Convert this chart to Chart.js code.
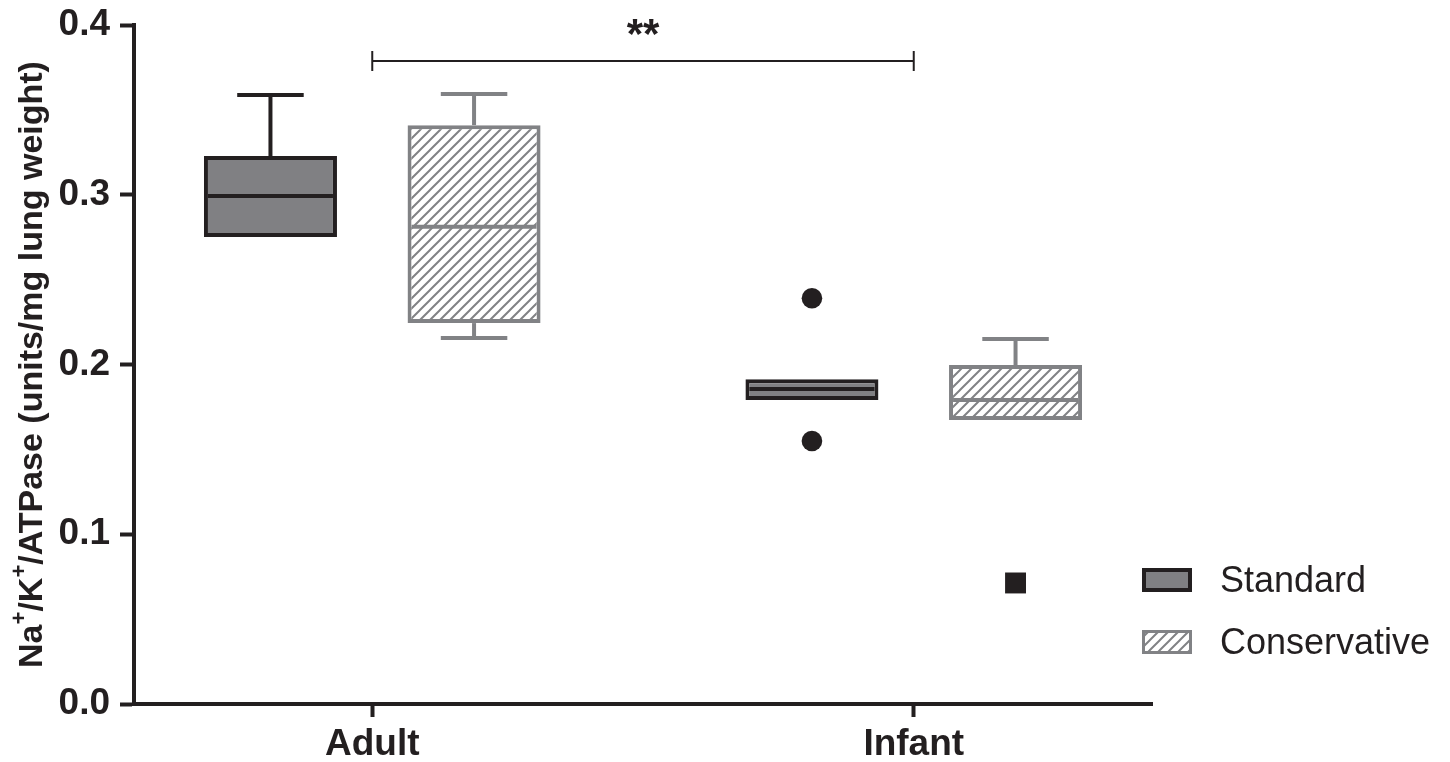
<!DOCTYPE html>
<html><head><meta charset="utf-8">
<script src="https://cdn.jsdelivr.net/npm/chart.js@4.4.1/dist/chart.umd.min.js"></script>
<style>html,body{margin:0;padding:0;background:#fff;overflow:hidden}#wrap{width:1450px;height:762px;position:relative}</style>
</head><body><div id="wrap"><canvas id="c" width="1450" height="762"></canvas></div>
<script>
// ---- data ----
const groups = ['Adult', 'Infant'];
const seriesNames = ['Standard', 'Conservative'];
const standardMin = [0.2751, 0.1791];
const standardQ1 = [0.2751, 0.1791];
const standardMedian = [0.2993, 0.1855];
const standardQ3 = [0.3228, 0.1913];
const standardMax = [0.3588, 0.1913];
const conservativeMin = [0.2156, 0.1673];
const conservativeQ1 = [0.2244, 0.1673];
const conservativeMedian = [0.2812, 0.1791];
const conservativeQ3 = [0.3410, 0.1997];
const conservativeMax = [0.3594, 0.2150];
const standardOutliers = [[], [0.2390, 0.1549]];
const conservativeOutliers = [[], [0.0713]];
const yTicks = [0.0, 0.1, 0.2, 0.3, 0.4];
const yTitleParts = [['Na', false], ['+', true], ['/K', false], ['+', true], ['/ATPase (units/mg lung weight)', false]];
const sigFrom = 0, sigTo = 1, sigLevel = 0.3788, sigLabel = '**';

// ---- style ----
const FONT = '"Liberation Sans", Arial, Helvetica, sans-serif';
const ink = '#231f20', grey = '#818285', stdFill = '#808083';
const OFF = 0.188, BOX_PX = 133, LW = 4;
const pos = (i, s) => i + 1 + (s === 0 ? -OFF : OFF);

const canvas = document.getElementById('c');
const mainCtx = canvas.getContext('2d');
function makeHatch() {
  const t = document.createElement('canvas'); t.width = 10; t.height = 10;
  const g = t.getContext('2d');
  g.fillStyle = '#fff'; g.fillRect(0, 0, 10, 10);
  g.strokeStyle = grey; g.lineWidth = 2;
  g.beginPath();
  g.moveTo(-2, 12); g.lineTo(12, -2);
  g.moveTo(-7, 7); g.lineTo(7, -7);
  g.moveTo(3, 17); g.lineTo(17, 3);
  g.stroke();
  return mainCtx.createPattern(t, 'repeat');
}
const hatch = makeHatch();

const boxSets = [
  {min: standardMin, q1: standardQ1, med: standardMedian, q3: standardQ3, max: standardMax, color: ink, s: 0},
  {min: conservativeMin, q1: conservativeQ1, med: conservativeMedian, q3: conservativeQ3, max: conservativeMax, color: grey, s: 1}
];

function line(ctx, x1, y1, x2, y2) { ctx.beginPath(); ctx.moveTo(x1, y1); ctx.lineTo(x2, y2); ctx.stroke(); }

const boxPlugin = {
  id: 'boxDetails',
  afterDatasetsDraw(chart) {
    const {ctx, scales: {x, y}} = chart;
    ctx.save(); ctx.lineWidth = LW; ctx.lineCap = 'butt';
    boxSets.forEach(st => groups.forEach((g, i) => {
      const cx = x.getPixelForValue(pos(i, st.s)); const half = BOX_PX / 2;
      ctx.strokeStyle = st.color;
      const ym = y.getPixelForValue(st.med[i]);
      line(ctx, cx - half + LW, ym, cx + half - LW, ym);
      if (st.max[i] > st.q3[i]) {
        const a = y.getPixelForValue(st.q3[i]), b = y.getPixelForValue(st.max[i]);
        line(ctx, cx, a, cx, b); line(ctx, cx - half / 2, b, cx + half / 2, b);
      }
      if (st.min[i] < st.q1[i]) {
        const a = y.getPixelForValue(st.q1[i]), b = y.getPixelForValue(st.min[i]);
        line(ctx, cx, a, cx, b); line(ctx, cx - half / 2, b, cx + half / 2, b);
      }
    }));
    ctx.restore();
  },
  afterDraw(chart) {
    const {ctx, chartArea, scales: {x, y}} = chart;
    ctx.save();
    // significance bracket
    const x1 = x.getPixelForValue(sigFrom + 1), x2 = x.getPixelForValue(sigTo + 1), yb = y.getPixelForValue(sigLevel);
    ctx.strokeStyle = ink; ctx.lineWidth = 2;
    line(ctx, x1, yb, x2, yb); line(ctx, x1, yb - 10, x1, yb + 10); line(ctx, x2, yb - 10, x2, yb + 10);
    ctx.fillStyle = ink; ctx.font = 'bold 42px ' + FONT; ctx.textAlign = 'center'; ctx.textBaseline = 'alphabetic';
    ctx.fillText(sigLabel, (x1 + x2) / 2, yb - 13);
    // y title
    const big = 'bold 34px ' + FONT, small = 'bold 22px ' + FONT;
    let total = 0;
    yTitleParts.forEach(([t, sup]) => { ctx.font = sup ? small : big; total += ctx.measureText(t).width; });
    ctx.translate(42, (chartArea.top + chartArea.bottom) / 2);
    ctx.rotate(-Math.PI / 2);
    ctx.textAlign = 'left';
    let cur = -total / 2;
    yTitleParts.forEach(([t, sup]) => {
      ctx.font = sup ? small : big;
      ctx.fillText(t, cur, sup ? -16 : 0);
      cur += ctx.measureText(t).width;
    });
    ctx.restore();
    // legend
    ctx.save();
    const lx = chartArea.right - 10;
    const items = [{fill: stdFill, stroke: ink, top: 568}, {fill: hatch, stroke: grey, top: 630}];
    items.forEach((it, k) => {
      ctx.fillStyle = it.fill; ctx.fillRect(lx, it.top, 50, 24);
      ctx.strokeStyle = it.stroke; ctx.lineWidth = k === 0 ? 4 : 3;
      const h = ctx.lineWidth / 2;
      ctx.strokeRect(lx + h, it.top + h, 50 - 2 * h, 24 - 2 * h);
      ctx.fillStyle = ink; ctx.font = '36px ' + FONT; ctx.textAlign = 'left'; ctx.textBaseline = 'alphabetic';
      ctx.fillText(seriesNames[k], lx + 78, it.top + 24);
    });
    ctx.restore();
  }
};

const flat = (arr, s) => arr.flatMap((vals, i) => vals.map(v => ({x: pos(i, s), y: v})));

new Chart(canvas, {
  type: 'bar',
  data: {
    datasets: [
      {type: 'bar', label: seriesNames[0], data: groups.map((g, i) => ({x: pos(i, 0), y: [standardQ1[i], standardQ3[i]]})),
       backgroundColor: stdFill, borderColor: ink, borderWidth: LW, borderSkipped: false, barThickness: BOX_PX, grouped: false, inflateAmount: 0},
      {type: 'bar', label: seriesNames[1], data: groups.map((g, i) => ({x: pos(i, 1), y: [conservativeQ1[i], conservativeQ3[i]]})),
       backgroundColor: hatch, borderColor: grey, borderWidth: LW, borderSkipped: false, barThickness: BOX_PX, grouped: false, inflateAmount: 0},
      {type: 'scatter', label: 'Standard outliers', data: flat(standardOutliers, 0), pointStyle: 'circle', pointRadius: 10.3,
       backgroundColor: ink, borderWidth: 0},
      {type: 'scatter', label: 'Conservative outliers', data: flat(conservativeOutliers, 1), pointStyle: 'rect', pointRadius: 14.8,
       backgroundColor: ink, borderWidth: 0}
    ]
  },
  options: {
    responsive: false, animation: false, devicePixelRatio: 1,
    layout: {padding: {top: 25, right: 298, left: 0, bottom: 0}},
    plugins: {legend: {display: false}, tooltip: {enabled: false}},
    scales: {
      x: {
        type: 'linear', min: 0.56, max: 2.44, offset: false,
        afterBuildTicks: s => { s.ticks = groups.map((g, i) => ({value: i + 1})); },
        afterFit: s => { s.height = 58; },
        ticks: {callback: v => groups[Math.round(v) - 1] || '', font: {family: FONT, size: 37, weight: 'bold'}, color: ink, padding: 6, maxRotation: 0, autoSkip: false},
        grid: {offset: false, drawOnChartArea: false, drawTicks: true, tickLength: 13, tickWidth: 4, tickColor: ink},
        border: {display: true, width: 4, color: ink}
      },
      y: {
        type: 'linear', min: 0, max: 0.4,
        afterBuildTicks: s => { s.ticks = yTicks.map(v => ({value: v})); },
        afterFit: s => { s.width = 134; },
        ticks: {callback: v => Number(v).toFixed(1), font: {family: FONT, size: 37, weight: 'bold', lineHeight: 0.6}, color: ink, padding: 10},
        grid: {offset: false, drawOnChartArea: false, drawTicks: true, tickLength: 14, tickWidth: 4, tickColor: ink},
        border: {display: true, width: 4, color: ink}
      }
    }
  },
  plugins: [boxPlugin]
});
</script></body></html>
